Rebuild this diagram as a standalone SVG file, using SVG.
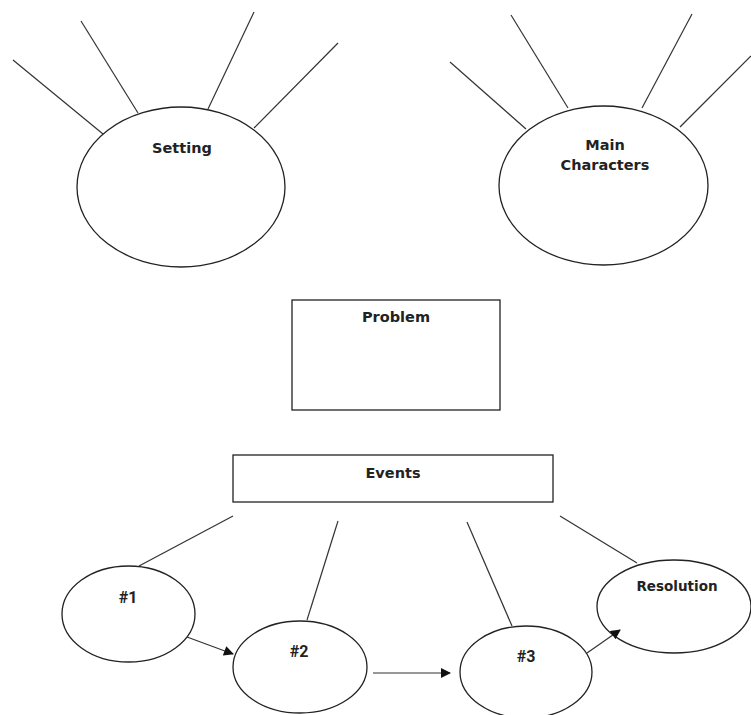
<svg xmlns="http://www.w3.org/2000/svg" width="751" height="715" viewBox="0 0 751 715">
<style>
.sh{fill:#fff;stroke:#222;stroke-width:1.3}
.ln{stroke:#333;stroke-width:1.2;fill:none}
.t{font-family:"DejaVu Sans",sans-serif;font-weight:bold;font-size:14.5px;fill:#222;text-anchor:middle}
.n{font-family:Roboto,"Liberation Sans",sans-serif;font-weight:bold;font-size:16px;fill:#222;text-anchor:middle}
</style>
<defs>
<marker id="ah" viewBox="0 0 10 10" refX="9" refY="5" markerWidth="11" markerHeight="10" markerUnits="userSpaceOnUse" orient="auto">
<path d="M0,0 L10,5 L0,10 z" fill="#111"/>
</marker>
</defs>
<rect width="751" height="715" fill="#fff"/>
<g id="setting">
<ellipse class="sh" cx="181" cy="187" rx="104" ry="80"/>
<text class="t" x="182" y="153">Setting</text>
</g>
<g id="main-characters">
<ellipse class="sh" cx="603.5" cy="185.5" rx="104.5" ry="79.5"/>
<text class="t" x="605" y="150">Main</text>
<text class="t" x="605" y="170">Characters</text>
</g>
<g id="problem">
<rect class="sh" x="292" y="300" width="208" height="110"/>
<text class="t" x="396" y="322">Problem</text>
</g>
<g id="events">
<rect class="sh" x="233" y="455" width="320" height="47"/>
<text class="t" x="393" y="478">Events</text>
</g>
<g id="event1">
<ellipse class="sh" cx="128.5" cy="614" rx="66.5" ry="48"/>
<text class="n" x="128" y="603">#1</text>
</g>
<g id="event2">
<ellipse class="sh" cx="300" cy="667" rx="67" ry="46"/>
<text class="n" x="299" y="657">#2</text>
</g>
<g id="event3">
<ellipse class="sh" cx="526" cy="672" rx="66" ry="46"/>
<text class="n" x="526" y="662">#3</text>
</g>
<g id="resolution">
<ellipse class="sh" cx="674" cy="606.5" rx="77" ry="46.5"/>
<text class="t" x="677" y="591" style="font-size:13.5px">Resolution</text>
</g>
<g id="connectors">
<line class="ln" x1="13" y1="60" x2="103" y2="134"/>
<line class="ln" x1="81" y1="21" x2="138" y2="113"/>
<line class="ln" x1="254" y1="12" x2="208" y2="109"/>
<line class="ln" x1="338" y1="43" x2="254" y2="128"/>
<line class="ln" x1="450" y1="62" x2="526" y2="129"/>
<line class="ln" x1="511" y1="15" x2="568" y2="108"/>
<line class="ln" x1="692" y1="14" x2="642" y2="108"/>
<line class="ln" x1="751" y1="56" x2="680" y2="127"/>
<line class="ln" x1="233" y1="516" x2="139" y2="566"/>
<line class="ln" x1="338" y1="521" x2="307" y2="620"/>
<line class="ln" x1="467" y1="522" x2="512" y2="626"/>
<line class="ln" x1="560" y1="516" x2="637" y2="563"/>
<line class="ln" x1="187" y1="637" x2="233" y2="654" marker-end="url(#ah)"/>
<line class="ln" x1="373" y1="673" x2="450" y2="673" marker-end="url(#ah)"/>
<line class="ln" x1="587" y1="653" x2="620" y2="630" marker-end="url(#ah)"/>
</g>
</svg>
